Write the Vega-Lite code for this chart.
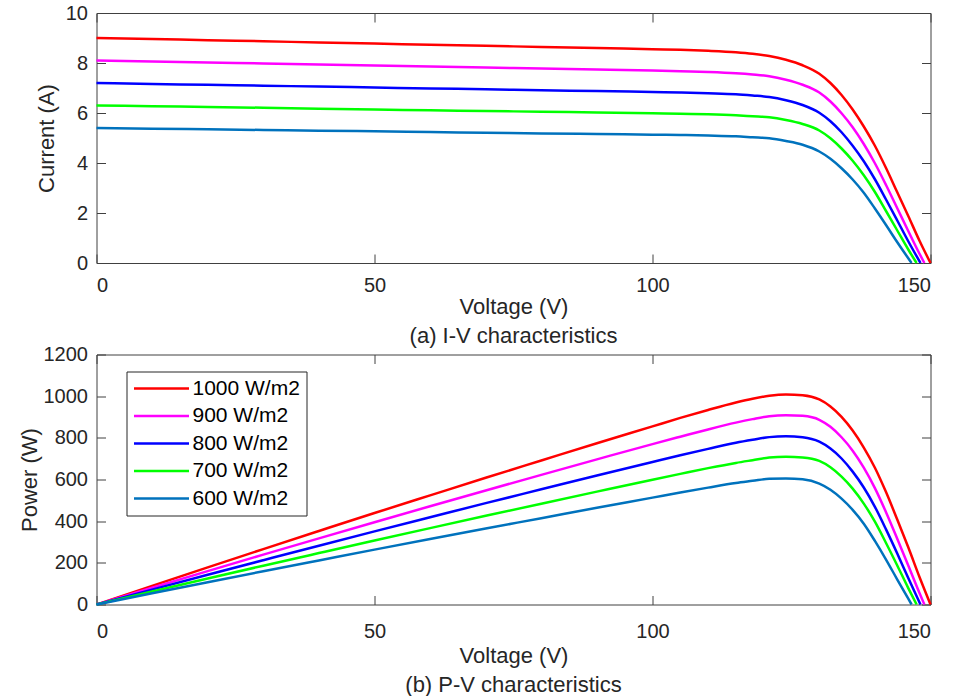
{
  "$schema": "https://vega.github.io/schema/vega-lite/v6.json",
  "background": "white",
  "padding": {"left": 17.5, "top": 3, "right": 0, "bottom": 0},
  "datasets": {
    "pv": [
      {"G":"1000 W/m2","V":0,"I":9.00,"P":0},
      {"G":"1000 W/m2","V":10,"I":8.96,"P":89.6},
      {"G":"1000 W/m2","V":20,"I":8.91,"P":178.2},
      {"G":"1000 W/m2","V":30,"I":8.87,"P":266.1},
      {"G":"1000 W/m2","V":40,"I":8.82,"P":352.8},
      {"G":"1000 W/m2","V":50,"I":8.78,"P":439.0},
      {"G":"1000 W/m2","V":60,"I":8.73,"P":523.8},
      {"G":"1000 W/m2","V":70,"I":8.69,"P":608.3},
      {"G":"1000 W/m2","V":80,"I":8.64,"P":691.2},
      {"G":"1000 W/m2","V":90,"I":8.60,"P":774.0},
      {"G":"1000 W/m2","V":100,"I":8.55,"P":855.0},
      {"G":"1000 W/m2","V":105,"I":8.53,"P":895.7},
      {"G":"1000 W/m2","V":110,"I":8.49,"P":933.9},
      {"G":"1000 W/m2","V":115,"I":8.43,"P":969.5},
      {"G":"1000 W/m2","V":118,"I":8.37,"P":987.7},
      {"G":"1000 W/m2","V":121,"I":8.28,"P":1001.9},
      {"G":"1000 W/m2","V":124,"I":8.13,"P":1008.1},
      {"G":"1000 W/m2","V":127,"I":7.91,"P":1004.6},
      {"G":"1000 W/m2","V":130,"I":7.57,"P":984.1},
      {"G":"1000 W/m2","V":132,"I":7.20,"P":950.4},
      {"G":"1000 W/m2","V":134,"I":6.72,"P":900.5},
      {"G":"1000 W/m2","V":136,"I":6.14,"P":835.0},
      {"G":"1000 W/m2","V":138,"I":5.46,"P":753.5},
      {"G":"1000 W/m2","V":140,"I":4.69,"P":656.6},
      {"G":"1000 W/m2","V":142,"I":3.80,"P":539.6},
      {"G":"1000 W/m2","V":144,"I":2.84,"P":409.0},
      {"G":"1000 W/m2","V":146,"I":1.88,"P":274.5},
      {"G":"1000 W/m2","V":148,"I":0.90,"P":133.2},
      {"G":"1000 W/m2","V":150,"I":0,"P":0},

      {"G":"900 W/m2","V":0,"I":8.10,"P":0},
      {"G":"900 W/m2","V":10,"I":8.06,"P":80.6},
      {"G":"900 W/m2","V":20,"I":8.02,"P":160.4},
      {"G":"900 W/m2","V":30,"I":7.98,"P":239.4},
      {"G":"900 W/m2","V":40,"I":7.94,"P":317.6},
      {"G":"900 W/m2","V":50,"I":7.90,"P":395.0},
      {"G":"900 W/m2","V":60,"I":7.86,"P":471.6},
      {"G":"900 W/m2","V":70,"I":7.82,"P":547.4},
      {"G":"900 W/m2","V":80,"I":7.78,"P":622.4},
      {"G":"900 W/m2","V":90,"I":7.74,"P":696.6},
      {"G":"900 W/m2","V":100,"I":7.70,"P":770.0},
      {"G":"900 W/m2","V":105,"I":7.67,"P":805.4},
      {"G":"900 W/m2","V":110,"I":7.64,"P":840.4},
      {"G":"900 W/m2","V":115,"I":7.59,"P":872.9},
      {"G":"900 W/m2","V":118,"I":7.54,"P":889.7},
      {"G":"900 W/m2","V":121,"I":7.47,"P":903.9},
      {"G":"900 W/m2","V":124,"I":7.33,"P":909.0},
      {"G":"900 W/m2","V":127,"I":7.13,"P":905.5},
      {"G":"900 W/m2","V":130,"I":6.82,"P":886.6},
      {"G":"900 W/m2","V":132,"I":6.46,"P":852.7},
      {"G":"900 W/m2","V":134,"I":5.99,"P":802.7},
      {"G":"900 W/m2","V":136,"I":5.43,"P":738.5},
      {"G":"900 W/m2","V":138,"I":4.76,"P":656.9},
      {"G":"900 W/m2","V":140,"I":3.99,"P":558.6},
      {"G":"900 W/m2","V":142,"I":3.12,"P":443.0},
      {"G":"900 W/m2","V":144,"I":2.20,"P":316.8},
      {"G":"900 W/m2","V":146,"I":1.28,"P":186.9},
      {"G":"900 W/m2","V":148,"I":0.38,"P":56.2},
      {"G":"900 W/m2","V":148.9,"I":0,"P":0},

      {"G":"800 W/m2","V":0,"I":7.20,"P":0},
      {"G":"800 W/m2","V":10,"I":7.16,"P":71.6},
      {"G":"800 W/m2","V":20,"I":7.13,"P":142.6},
      {"G":"800 W/m2","V":30,"I":7.09,"P":212.7},
      {"G":"800 W/m2","V":40,"I":7.06,"P":282.4},
      {"G":"800 W/m2","V":50,"I":7.02,"P":351.0},
      {"G":"800 W/m2","V":60,"I":6.98,"P":418.8},
      {"G":"800 W/m2","V":70,"I":6.95,"P":486.5},
      {"G":"800 W/m2","V":80,"I":6.91,"P":552.8},
      {"G":"800 W/m2","V":90,"I":6.88,"P":619.2},
      {"G":"800 W/m2","V":100,"I":6.84,"P":684.0},
      {"G":"800 W/m2","V":105,"I":6.82,"P":716.1},
      {"G":"800 W/m2","V":110,"I":6.79,"P":746.9},
      {"G":"800 W/m2","V":115,"I":6.75,"P":776.3},
      {"G":"800 W/m2","V":118,"I":6.70,"P":790.6},
      {"G":"800 W/m2","V":121,"I":6.64,"P":803.4},
      {"G":"800 W/m2","V":124,"I":6.51,"P":807.2},
      {"G":"800 W/m2","V":127,"I":6.32,"P":802.6},
      {"G":"800 W/m2","V":130,"I":6.01,"P":781.3},
      {"G":"800 W/m2","V":132,"I":5.67,"P":748.4},
      {"G":"800 W/m2","V":134,"I":5.23,"P":700.8},
      {"G":"800 W/m2","V":136,"I":4.69,"P":637.8},
      {"G":"800 W/m2","V":138,"I":4.07,"P":561.7},
      {"G":"800 W/m2","V":140,"I":3.35,"P":469.0},
      {"G":"800 W/m2","V":142,"I":2.54,"P":360.7},
      {"G":"800 W/m2","V":144,"I":1.71,"P":246.2},
      {"G":"800 W/m2","V":146,"I":0.87,"P":127.0},
      {"G":"800 W/m2","V":148.2,"I":0,"P":0},

      {"G":"700 W/m2","V":0,"I":6.30,"P":0},
      {"G":"700 W/m2","V":10,"I":6.27,"P":62.7},
      {"G":"700 W/m2","V":20,"I":6.24,"P":124.8},
      {"G":"700 W/m2","V":30,"I":6.21,"P":186.3},
      {"G":"700 W/m2","V":40,"I":6.17,"P":246.8},
      {"G":"700 W/m2","V":50,"I":6.14,"P":307.0},
      {"G":"700 W/m2","V":60,"I":6.11,"P":366.6},
      {"G":"700 W/m2","V":70,"I":6.08,"P":425.6},
      {"G":"700 W/m2","V":80,"I":6.05,"P":484.0},
      {"G":"700 W/m2","V":90,"I":6.02,"P":541.8},
      {"G":"700 W/m2","V":100,"I":5.99,"P":599.0},
      {"G":"700 W/m2","V":105,"I":5.97,"P":626.9},
      {"G":"700 W/m2","V":110,"I":5.95,"P":654.5},
      {"G":"700 W/m2","V":115,"I":5.91,"P":679.7},
      {"G":"700 W/m2","V":118,"I":5.87,"P":692.7},
      {"G":"700 W/m2","V":121,"I":5.83,"P":705.4},
      {"G":"700 W/m2","V":124,"I":5.72,"P":709.3},
      {"G":"700 W/m2","V":127,"I":5.56,"P":706.1},
      {"G":"700 W/m2","V":130,"I":5.30,"P":689.0},
      {"G":"700 W/m2","V":132,"I":4.99,"P":658.7},
      {"G":"700 W/m2","V":134,"I":4.58,"P":613.7},
      {"G":"700 W/m2","V":136,"I":4.09,"P":556.2},
      {"G":"700 W/m2","V":138,"I":3.51,"P":484.4},
      {"G":"700 W/m2","V":140,"I":2.84,"P":397.6},
      {"G":"700 W/m2","V":142,"I":2.08,"P":295.4},
      {"G":"700 W/m2","V":144,"I":1.31,"P":188.6},
      {"G":"700 W/m2","V":146,"I":0.54,"P":78.8},
      {"G":"700 W/m2","V":147.5,"I":0,"P":0},

      {"G":"600 W/m2","V":0,"I":5.40,"P":0},
      {"G":"600 W/m2","V":10,"I":5.37,"P":53.7},
      {"G":"600 W/m2","V":20,"I":5.35,"P":107.0},
      {"G":"600 W/m2","V":30,"I":5.32,"P":159.6},
      {"G":"600 W/m2","V":40,"I":5.29,"P":211.6},
      {"G":"600 W/m2","V":50,"I":5.27,"P":263.5},
      {"G":"600 W/m2","V":60,"I":5.24,"P":314.4},
      {"G":"600 W/m2","V":70,"I":5.21,"P":364.7},
      {"G":"600 W/m2","V":80,"I":5.18,"P":414.4},
      {"G":"600 W/m2","V":90,"I":5.16,"P":464.4},
      {"G":"600 W/m2","V":100,"I":5.13,"P":513.0},
      {"G":"600 W/m2","V":105,"I":5.12,"P":537.6},
      {"G":"600 W/m2","V":110,"I":5.10,"P":561.0},
      {"G":"600 W/m2","V":115,"I":5.07,"P":583.1},
      {"G":"600 W/m2","V":118,"I":5.03,"P":593.5},
      {"G":"600 W/m2","V":121,"I":4.99,"P":603.8},
      {"G":"600 W/m2","V":124,"I":4.88,"P":605.1},
      {"G":"600 W/m2","V":127,"I":4.73,"P":600.7},
      {"G":"600 W/m2","V":130,"I":4.46,"P":579.8},
      {"G":"600 W/m2","V":132,"I":4.17,"P":550.4},
      {"G":"600 W/m2","V":134,"I":3.79,"P":507.9},
      {"G":"600 W/m2","V":136,"I":3.34,"P":454.2},
      {"G":"600 W/m2","V":138,"I":2.81,"P":387.8},
      {"G":"600 W/m2","V":140,"I":2.18,"P":305.2},
      {"G":"600 W/m2","V":142,"I":1.52,"P":215.8},
      {"G":"600 W/m2","V":144,"I":0.84,"P":121.0},
      {"G":"600 W/m2","V":146,"I":0.19,"P":27.7},
      {"G":"600 W/m2","V":146.6,"I":0,"P":0}
    ]
  },
  "config": {
    "view": {"stroke": null},
    "font": "Liberation Sans",
    "axis": {
      "grid": false,
      "labelFont": "Liberation Sans",
      "labelFontSize": 20,
      "labelColor": "#262626",
      "titleFont": "Liberation Sans",
      "titleFontSize": 22,
      "titleFontWeight": "normal",
      "titleColor": "#262626",
      "domainColor": "#404040",
      "tickColor": "#404040",
      "tickWidth": 1,
      "tickSize": -9,
      "format": "d"
    },
    "title": {
      "font": "Liberation Sans",
      "fontSize": 22,
      "fontWeight": "normal",
      "color": "#262626",
      "orient": "bottom",
      "anchor": "middle",
      "frame": "group"
    }
  },
  "resolve": {"scale": {"color": "independent"}},
  "spacing": -2.5,
  "vconcat": [
    {
      "width": 834,
      "height": 250,
      "data": {"name": "pv"},
      "title": {"text": "(a) I-V characteristics", "offset": 9},
      "layer": [
        {
          "mark": {"type": "line", "strokeWidth": 2.5, "interpolate": "monotone"},
          "encoding": {
            "x": {"field": "V", "type": "quantitative", "scale": {"domain": [0, 150], "nice": false},
                  "axis": {"orient": "bottom", "title": "Voltage (V)", "values": [0, 50, 100, 150], "labelPadding": 21, "titlePadding": 1}},
            "y": {"field": "I", "type": "quantitative", "scale": {"domain": [0, 10], "nice": false},
                  "axis": {"orient": "left", "title": "Current (A)", "values": [0, 2, 4, 6, 8, 10], "labelPadding": 18, "titlePadding": 7}},
            "color": {"field": "G", "type": "nominal",
                      "scale": {"domain": ["1000 W/m2", "900 W/m2", "800 W/m2", "700 W/m2", "600 W/m2"],
                                "range": ["#FF0000", "#FF00FF", "#0000FF", "#00FF00", "#0072BD"]},
                      "legend": null}
          }
        },
        {
          "mark": {"type": "line", "opacity": 0},
          "encoding": {
            "x": {"field": "V", "type": "quantitative", "scale": {"domain": [0, 150], "nice": false},
                  "axis": {"orient": "top", "title": null, "labels": false, "values": [0, 50, 100, 150]}},
            "y": {"field": "I", "type": "quantitative", "scale": {"domain": [0, 10], "nice": false},
                  "axis": {"orient": "right", "title": null, "labels": false, "values": [0, 2, 4, 6, 8, 10]}},
            "detail": {"field": "G", "type": "nominal"}
          }
        }
      ],
      "resolve": {"axis": {"x": "independent", "y": "independent"}}
    },
    {
      "width": 834,
      "height": 250,
      "data": {"name": "pv"},
      "title": {"text": "(b) P-V characteristics", "offset": 8},
      "layer": [
        {
          "mark": {"type": "line", "strokeWidth": 2.5, "interpolate": "monotone"},
          "encoding": {
            "x": {"field": "V", "type": "quantitative", "scale": {"domain": [0, 150], "nice": false},
                  "axis": {"orient": "bottom", "title": "Voltage (V)", "values": [0, 50, 100, 150], "labelPadding": 26, "titlePadding": 4}},
            "y": {"field": "P", "type": "quantitative", "scale": {"domain": [0, 1200], "nice": false},
                  "axis": {"orient": "left", "title": "Power (W)", "values": [0, 200, 400, 600, 800, 1000, 1200], "labelPadding": 18, "titlePadding": 2}},
            "color": {"field": "G", "type": "nominal",
                      "scale": {"domain": ["1000 W/m2", "900 W/m2", "800 W/m2", "700 W/m2", "600 W/m2"],
                                "range": ["#FF0000", "#FF00FF", "#0000FF", "#00FF00", "#0072BD"]},
                      "legend": {
                        "title": null, "orient": "none", "legendX": 30, "legendY": 17,
                        "symbolType": "stroke", "symbolSize": 3025, "symbolStrokeWidth": 2.5,
                        "labelFont": "Liberation Sans", "labelFontSize": 21, "labelColor": "#000000",
                        "labelOffset": 2, "clipHeight": 22, "rowPadding": 5.5, "padding": 6,
                        "strokeColor": "#262626", "fillColor": "white"
                      }}
          }
        },
        {
          "mark": {"type": "line", "opacity": 0},
          "encoding": {
            "x": {"field": "V", "type": "quantitative", "scale": {"domain": [0, 150], "nice": false},
                  "axis": {"orient": "top", "title": null, "labels": false, "values": [0, 50, 100, 150]}},
            "y": {"field": "P", "type": "quantitative", "scale": {"domain": [0, 1200], "nice": false},
                  "axis": {"orient": "right", "title": null, "labels": false, "values": [0, 200, 400, 600, 800, 1000, 1200]}},
            "detail": {"field": "G", "type": "nominal"}
          }
        }
      ],
      "resolve": {"axis": {"x": "independent", "y": "independent"}}
    }
  ]
}
